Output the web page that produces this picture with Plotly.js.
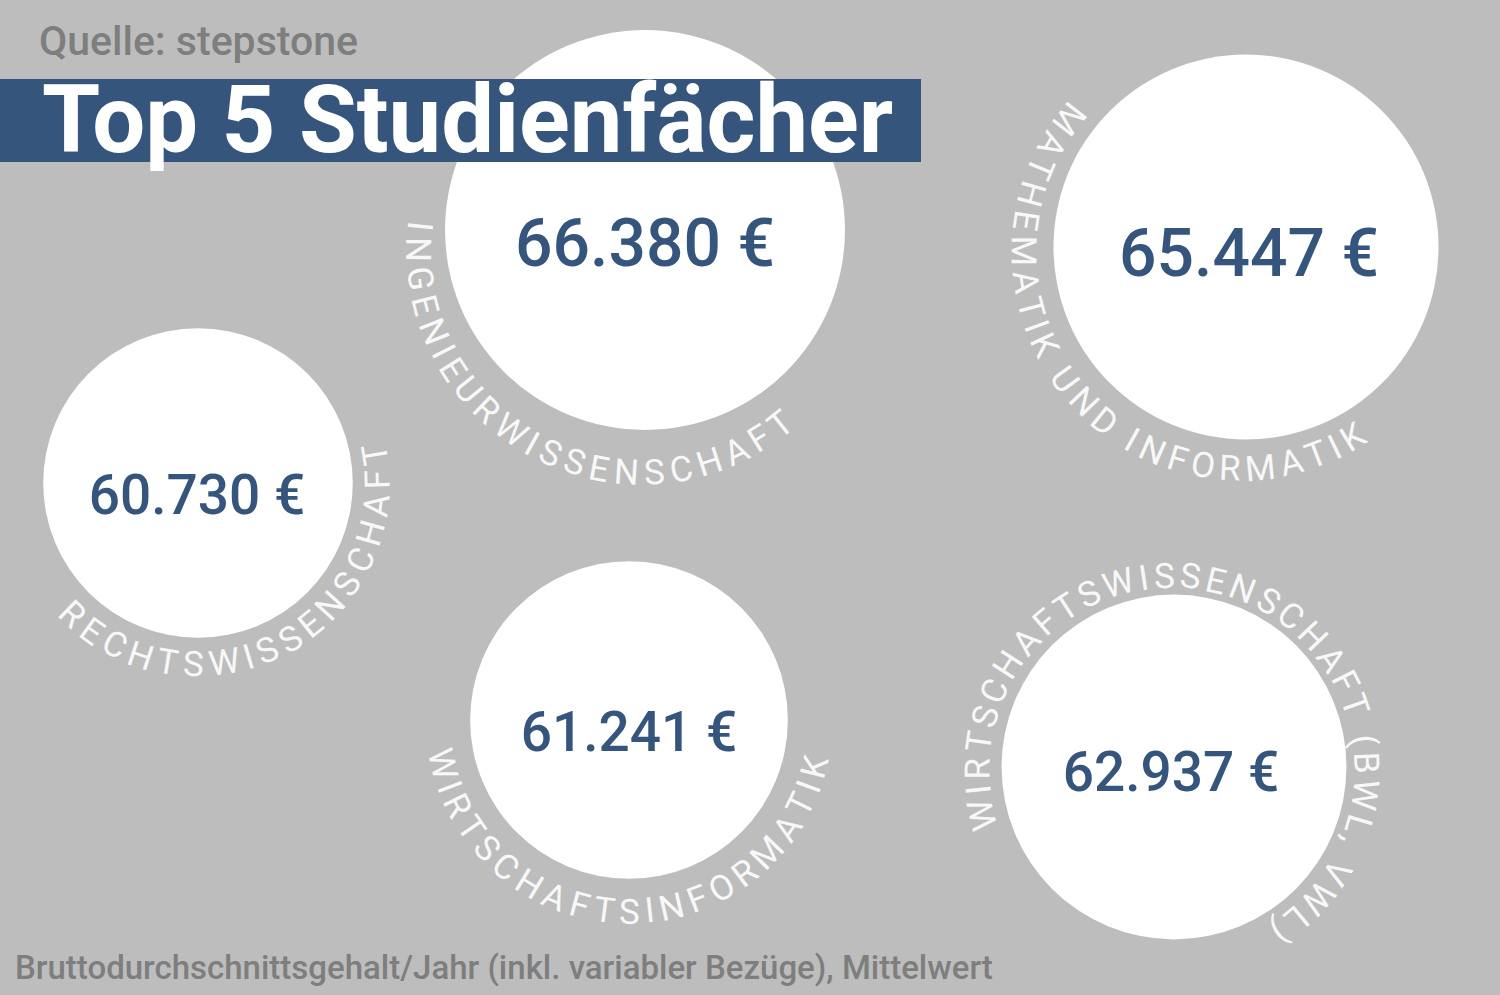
<!DOCTYPE html>
<html>
<head>
<meta charset="utf-8">
<script src="https://cdn.plot.ly/plotly-3.0.1.min.js"></script>
<style>
  html, body { margin: 0; padding: 0; background: #bdbdbd; }
  #chart { width: 1500px; height: 995px; }
</style>
</head>
<body>
<div id="chart"></div>
<script>
// Subjects (as printed round each bubble) and mean gross annual salary in EUR
const subjects = [
  'INGENIEURWISSENSCHAFT',
  'MATHEMATIK UND INFORMATIK',
  'RECHTSWISSENSCHAFT',
  'WIRTSCHAFTSINFORMATIK',
  'WIRTSCHAFTSWISSENSCHAFT (BWL, VWL)'
];
const salaries = [66380, 65447, 60730, 61241, 62937];

const titleText = 'Top 5 Studienfächer';
const sourceText = 'Quelle: stepstone';
const noteText = 'Bruttodurchschnittsgehalt/Jahr (inkl. variabler Bezüge), Mittelwert';

// ---- placement (pixel coordinates, y pointing down) ----
const bubbleX = [645, 1246, 198, 629, 1174];
const bubbleY = [230, 247, 483, 720, 767];
const valueX = [645, 1249, 197, 629, 1171];
const valueY = [249, 259, 500, 737, 777];
const valueSize = [66, 66, 55, 55, 55];

// curved captions: circle centre, radius through the letter middles,
// angle (deg) of the first and last letter centre
const ringCX = [641, 1240, 197, 629, 1172];
const ringCY = [250, 252, 484, 720, 770];
const ringR = [223, 217, 181, 192, 194];
const ringStart = [186, 218, 133.7, 166.9, 166.6];
const ringEnd = [51.3, 58.6, -9.4, 14.1, 416.5];
const ringFontSize = 35;

const BG = '#bdbdbd';
const BLUE = '#35557c';
const GREY = '#7e7e7e';
const RING_COLOR = '#f8f8f8';

// bubble diameter grows linearly with the salary
function bubbleDiameter(v) {
  return 2 * (175.7 + 0.008 * (v - 63347));
}

function euro(v) {
  return String(v).replace(/\B(?=(\d{3})+(?!\d))/g, '.') + ' €';
}

// Lay the letters of a caption along an arc, one rotated annotation per letter
const measure = document.createElement('canvas').getContext('2d');
measure.font = '400 ' + ringFontSize + 'px Roboto';

function ringAnnotations(i) {
  const chars = Array.from(subjects[i]);
  const widths = chars.map(c => measure.measureText(c).width);
  const R = ringR[i];
  const dir = Math.sign(ringEnd[i] - ringStart[i]);
  const arcLen = Math.abs(ringEnd[i] - ringStart[i]) * Math.PI / 180 * R;
  let base = 0;
  for (let k = 1; k < chars.length; k++) base += (widths[k - 1] + widths[k]) / 2;
  const track = (arcLen - base) / (chars.length - 1);
  const out = [];
  let pos = 0;
  chars.forEach((c, k) => {
    if (k > 0) pos += (widths[k - 1] + widths[k]) / 2 + track;
    if (c === ' ') return;
    const thetaDeg = ringStart[i] + dir * (pos / R) * 180 / Math.PI;
    const th = thetaDeg * Math.PI / 180;
    let ang = thetaDeg + 90 * dir;
    ang = ((ang % 360) + 540) % 360 - 180;
    out.push({
      x: ringCX[i] + R * Math.cos(th),
      y: ringCY[i] + R * Math.sin(th),
      xref: 'x', yref: 'y',
      text: c,
      showarrow: false,
      textangle: ang,
      xanchor: 'center', yanchor: 'middle',
      font: { family: 'Roboto', size: ringFontSize, color: RING_COLOR, weight: 400 }
    });
  });
  return out;
}

const bubbles = {
  type: 'scatter',
  mode: 'markers',
  x: bubbleX,
  y: bubbleY,
  marker: {
    size: salaries.map(bubbleDiameter),
    sizemode: 'diameter',
    color: '#ffffff',
    opacity: 1,
    line: { width: 0 }
  },
  cliponaxis: false,
  hoverinfo: 'skip'
};

const values = {
  type: 'scatter',
  mode: 'text',
  x: valueX,
  y: valueY,
  text: salaries.map(euro),
  textposition: 'middle center',
  textfont: { family: 'Roboto', size: valueSize, color: BLUE, weight: 500 },
  cliponaxis: false,
  hoverinfo: 'skip'
};

let annotations = [];
subjects.forEach((_, i) => { annotations = annotations.concat(ringAnnotations(i)); });

annotations.push(
  {
    x: 40, y: 120, xref: 'x', yref: 'y', text: titleText, showarrow: false,
    xanchor: 'left', yanchor: 'middle',
    font: { family: 'Roboto', size: 94, color: '#ffffff', weight: 700 }
  },
  {
    x: 37, y: 41, xref: 'x', yref: 'y', text: sourceText, showarrow: false,
    xanchor: 'left', yanchor: 'middle',
    font: { family: 'Roboto', size: 41, color: GREY, weight: 500 }
  },
  {
    x: 13, y: 967, xref: 'x', yref: 'y', text: noteText, showarrow: false,
    xanchor: 'left', yanchor: 'middle',
    font: { family: 'Roboto', size: 33, color: GREY, weight: 500 }
  }
);

const layout = {
  width: 1500,
  height: 995,
  margin: { l: 0, r: 0, t: 0, b: 0, pad: 0 },
  paper_bgcolor: BG,
  plot_bgcolor: BG,
  showlegend: false,
  xaxis: { range: [0, 1500], visible: false, fixedrange: true },
  yaxis: { range: [995, 0], visible: false, fixedrange: true },
  shapes: [{
    type: 'rect', xref: 'x', yref: 'y',
    x0: 0, x1: 921, y0: 79, y1: 162,
    fillcolor: BLUE, line: { width: 0 }, layer: 'above'
  }],
  annotations: annotations
};

Plotly.newPlot('chart', [bubbles, values], layout, { displayModeBar: false, staticPlot: true });
</script>
</body>
</html>
